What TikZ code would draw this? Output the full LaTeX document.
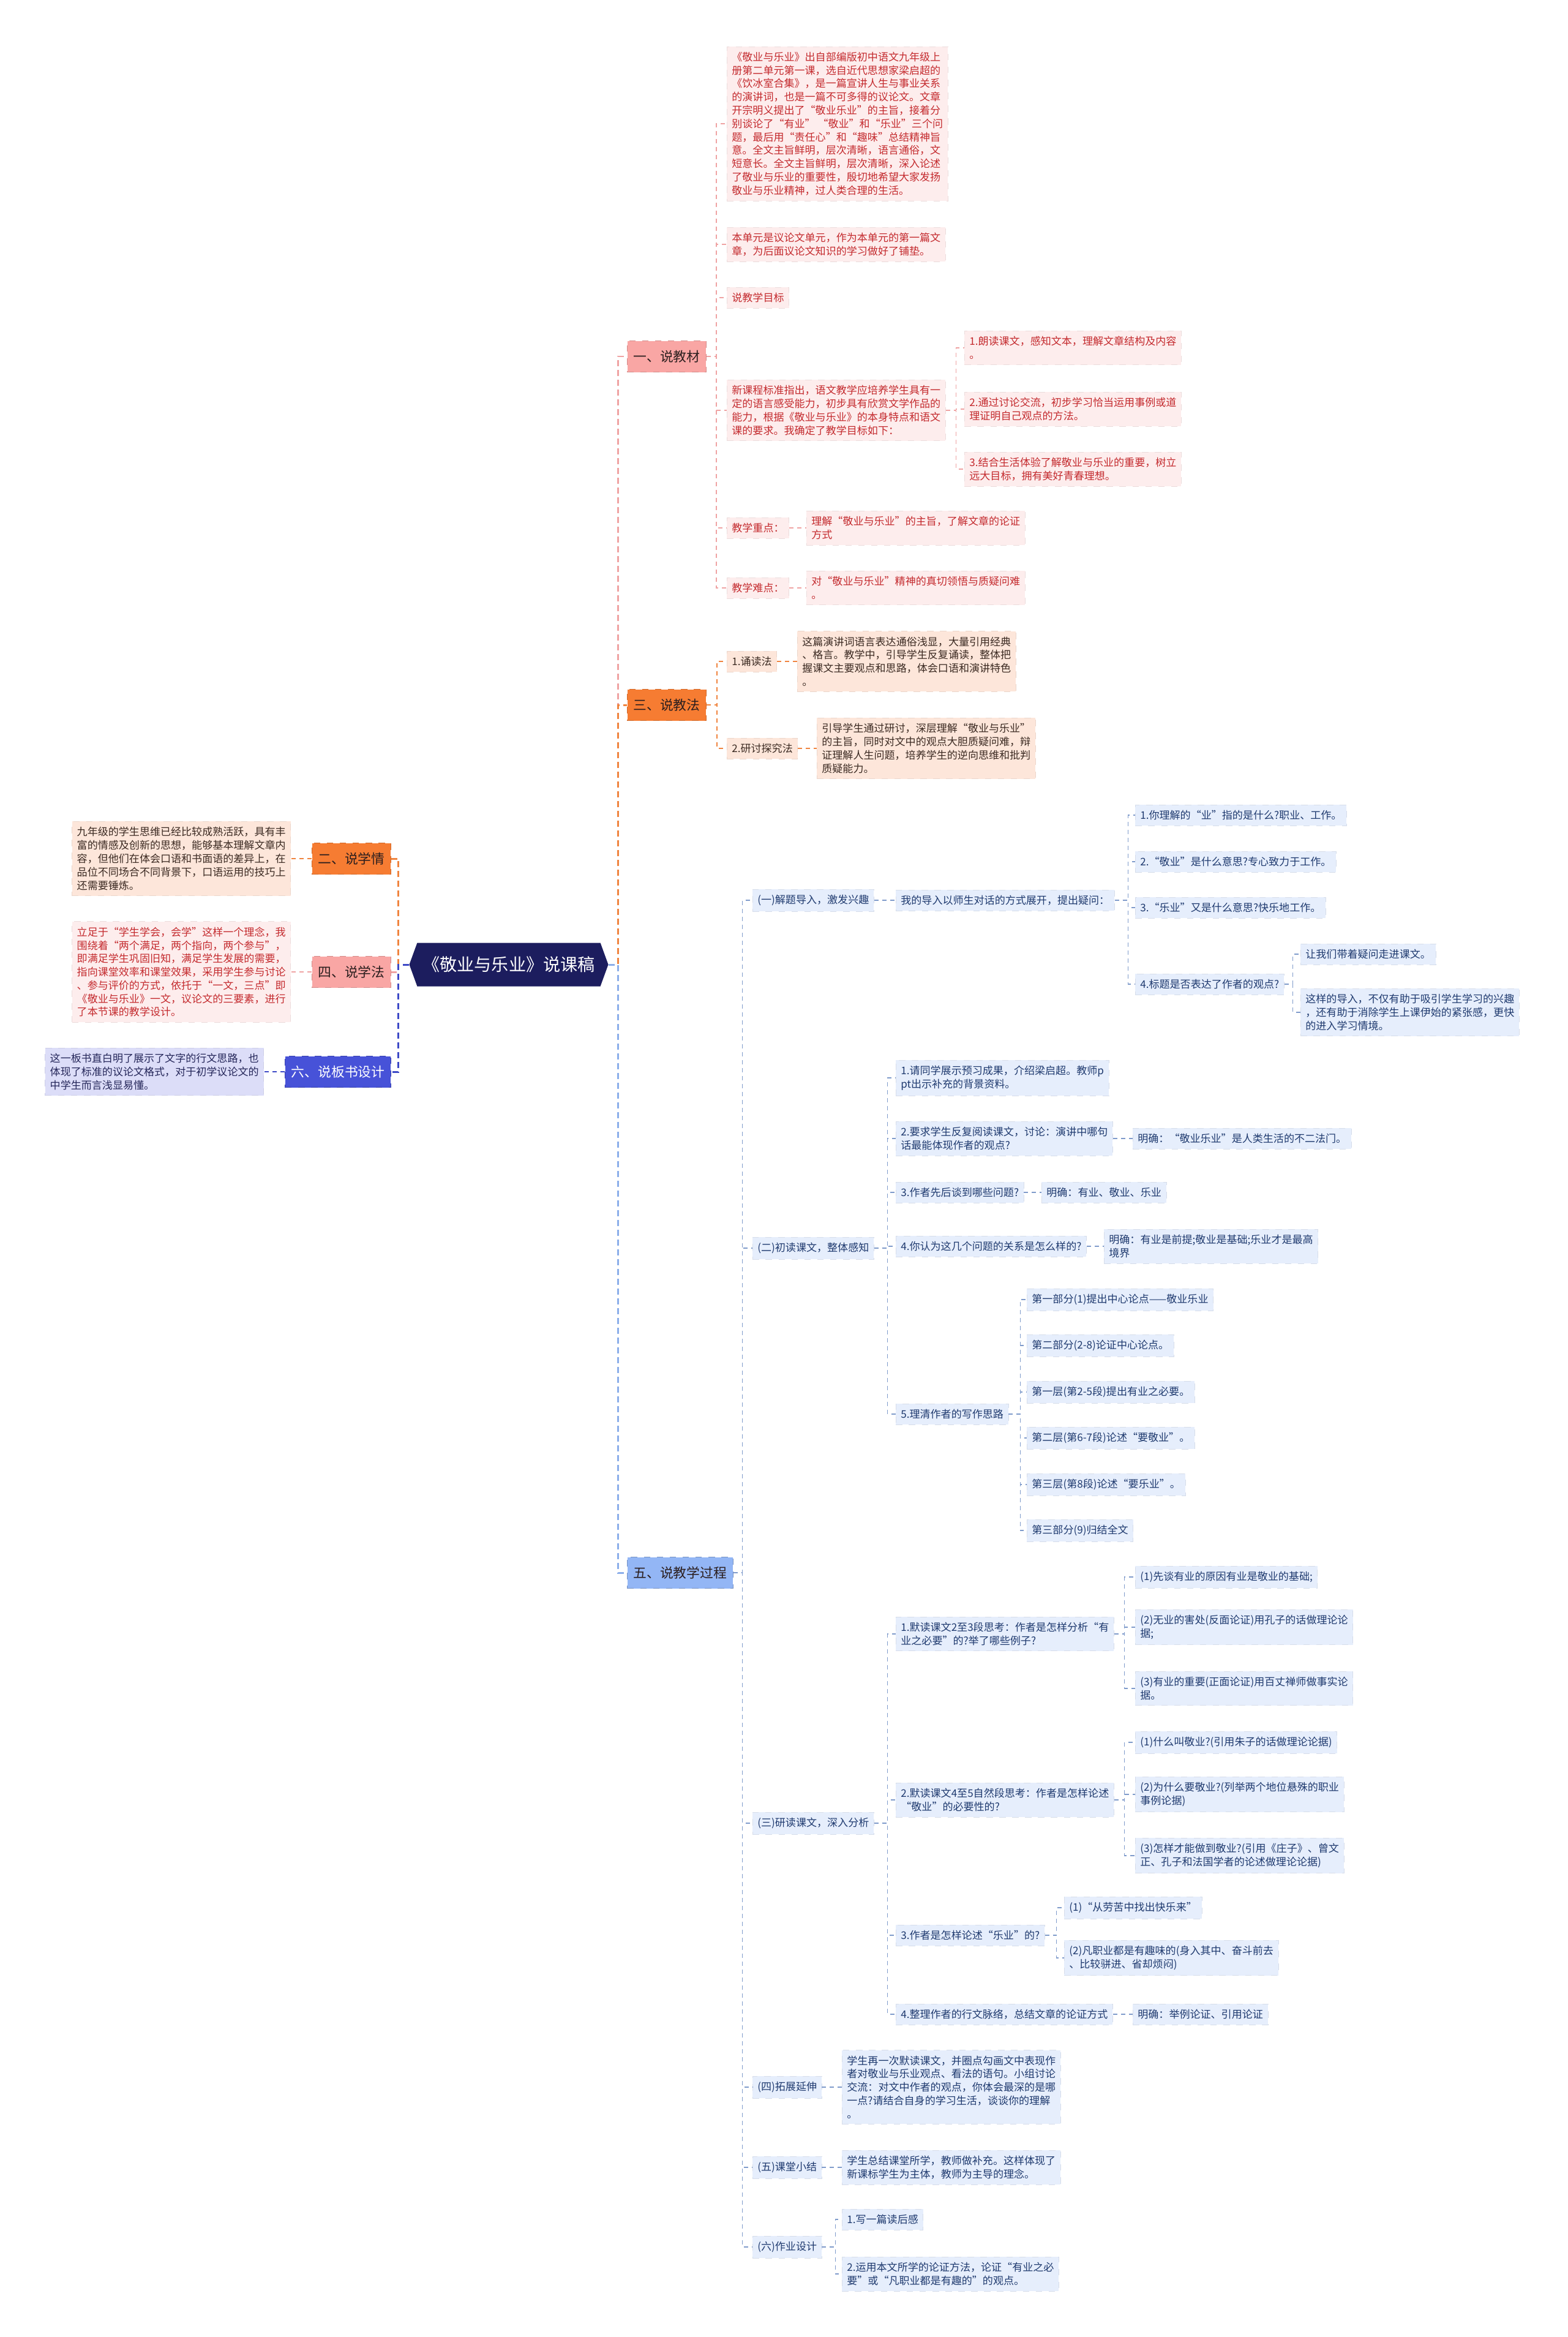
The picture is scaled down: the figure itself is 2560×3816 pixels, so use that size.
\documentclass[tikz,border=0pt]{standalone}
\usepackage{fontspec}
\setmainfont{Noto Sans CJK SC}
\usetikzlibrary{shapes.symbols}
\definecolor{navy}{HTML}{1C1D5E}
\definecolor{pinkA}{HTML}{F9A6A4}
\definecolor{orngA}{HTML}{F67C32}
\definecolor{blueA}{HTML}{93B6F5}
\definecolor{indA}{HTML}{4752D8}
\definecolor{darkT}{HTML}{2B1E1E}
\definecolor{pinkB}{HTML}{FDEDED}
\definecolor{pinkT}{HTML}{C42A2E}
\definecolor{peach}{HTML}{FDE6DA}
\definecolor{brownT}{HTML}{3B2A22}
\definecolor{lblue}{HTML}{E6EEFC}
\definecolor{blueT}{HTML}{1F3A6F}
\definecolor{lilac}{HTML}{DCDDF8}
\definecolor{lilacT}{HTML}{25275A}
\definecolor{pinkL}{HTML}{EFA3A3}
\definecolor{orngL}{HTML}{F0843F}
\definecolor{blueL}{HTML}{8BAEEA}
\definecolor{greyL}{HTML}{7F9BCB}
\definecolor{indL}{HTML}{3D49C6}
\tikzset{
  hub/.style={signal,signal to=west and east,signal pointer angle=140,fill=navy,text=white,
    inner xsep=0.9mm,inner ysep=0pt,minimum height=7.1mm,font=\fontsize{8pt}{9pt}\selectfont},
  sec/.style={rectangle,inner xsep=1mm,inner ysep=0pt,minimum height=5.1mm,
    font=\fontsize{6.2pt}{7pt}\selectfont,dashed,line width=0.3pt},
  secpink/.style={sec,fill=pinkA,draw=pinkA!85!black,text=darkT},
  secorng/.style={sec,fill=orngA,draw=orngA!85!black,text=darkT},
  secblue/.style={sec,fill=blueA,draw=blueA!80!black,text=darkT},
  secind/.style={sec,fill=indA,draw=indA!80!black,text=white},
  box/.style={rectangle,align=left,inner xsep=0.8mm,inner ysep=0.9mm,
    font=\fontsize{4.85pt}{6.2pt}\selectfont,dashed,line width=0.2pt},
  boxpink/.style={box,fill=pinkB,draw=pinkB!93!black,text=pinkT},
  boxpeach/.style={box,fill=peach,draw=peach!93!black,text=brownT},
  boxblue/.style={box,fill=lblue,draw=lblue!93!black,text=blueT},
  boxlilac/.style={box,fill=lilac,draw=lilac!93!black,text=lilacT},
  trunk/.style={dash pattern=on 1mm off 0.6mm,line width=0.85pt},
  lnk/.style={dash pattern=on 0.7mm off 0.6mm,line width=0.45pt},
}
\begin{document}
\begin{tikzpicture}[x=0.1mm,y=-0.1mm]
  \useasboundingbox (0,0) rectangle (2560,3816);
  \node[hub] (root) at (831,1575) {《敬业与乐业》说课稿};

  \node[secorng,anchor=east] (b2) at (639,1402) {二、说学情};
  \node[secpink,anchor=east] (b4) at (639,1587) {四、说学法};
  \node[secind,anchor=east] (b6) at (639,1750) {六、说板书设计};
  \node[boxpeach,anchor=east] (b2t) at (475,1402) {九年级的学生思维已经比较成熟活跃，具有丰\\富的情感及创新的思想，能够基本理解文章内\\容，但他们在体会口语和书面语的差异上，在\\品位不同场合不同背景下，口语运用的技巧上\\还需要锤炼。};
  \node[boxpink,anchor=east] (b4t) at (475,1587) {立足于“学生学会，会学”这样一个理念，我\\围绕着“两个满足，两个指向，两个参与”，\\即满足学生巩固旧知，满足学生发展的需要，\\指向课堂效率和课堂效果，采用学生参与讨论\\、参与评价的方式，依托于“一文，三点”即\\《敬业与乐业》一文，议论文的三要素，进行\\了本节课的教学设计。};
  \node[boxlilac,anchor=east] (b6t) at (431,1750) {这一板书直白明了展示了文字的行文思路，也\\体现了标准的议论文格式，对于初学议论文的\\中学生而言浅显易懂。};

  \node[secpink,anchor=west] (b1) at (1024,582) {一、说教材};
  \node[secorng,anchor=west] (b3) at (1024,1151) {三、说教法};
  \node[secblue,anchor=west] (b5) at (1024,2568) {五、说教学过程};

  \node[boxpink,anchor=west] (b1a) at (1187,202) {《敬业与乐业》出自部编版初中语文九年级上\\册第二单元第一课，选自近代思想家梁启超的\\《饮冰室合集》，是一篇宣讲人生与事业关系\\的演讲词，也是一篇不可多得的议论文。文章\\开宗明义提出了“敬业乐业”的主旨，接着分\\别谈论了“有业” “敬业”和“乐业”三个问\\题，最后用“责任心”和“趣味”总结精神旨\\意。全文主旨鲜明，层次清晰，语言通俗，文\\短意长。全文主旨鲜明，层次清晰，深入论述\\了敬业与乐业的重要性，殷切地希望大家发扬\\敬业与乐业精神，过人类合理的生活。};
  \node[boxpink,anchor=west] (b1b) at (1187,399) {本单元是议论文单元，作为本单元的第一篇文\\章，为后面议论文知识的学习做好了铺垫。};
  \node[boxpink,anchor=west] (b1c) at (1187,486) {说教学目标};
  \node[boxpink,anchor=west] (b1d) at (1187,670) {新课程标准指出，语文教学应培养学生具有一\\定的语言感受能力，初步具有欣赏文学作品的\\能力，根据《敬业与乐业》的本身特点和语文\\课的要求。我确定了教学目标如下：};
  \node[boxpink,anchor=west] (g1) at (1575,568) {1.朗读课文，感知文本，理解文章结构及内容\\。};
  \node[boxpink,anchor=west] (g2) at (1575,668) {2.通过讨论交流，初步学习恰当运用事例或道\\理证明自己观点的方法。};
  \node[boxpink,anchor=west] (g3) at (1575,766) {3.结合生活体验了解敬业与乐业的重要，树立\\远大目标，拥有美好青春理想。};
  \node[boxpink,anchor=west] (b1e) at (1187,862) {教学重点：};
  \node[boxpink,anchor=west] (b1f) at (1187,960) {教学难点：};
  \node[boxpink,anchor=west] (k1) at (1317,862) {理解“敬业与乐业”的主旨，了解文章的论证\\方式};
  \node[boxpink,anchor=west] (k2) at (1317,960) {对“敬业与乐业”精神的真切领悟与质疑问难\\。};

  \node[boxpeach,anchor=west] (m1) at (1187,1080) {1.诵读法};
  \node[boxpeach,anchor=west] (m1t) at (1302,1080) {这篇演讲词语言表达通俗浅显，大量引用经典\\、格言。教学中，引导学生反复诵读，整体把\\握课文主要观点和思路，体会口语和演讲特色\\。};
  \node[boxpeach,anchor=west] (m2) at (1187,1222) {2.研讨探究法};
  \node[boxpeach,anchor=west] (m2t) at (1334,1222) {引导学生通过研讨，深层理解“敬业与乐业”\\的主旨，同时对文中的观点大胆质疑问难，辩\\证理解人生问题，培养学生的逆向思维和批判\\质疑能力。};

  \node[boxblue,anchor=west] (f1) at (1229,1470) {(一)解题导入，激发兴趣};
  \node[boxblue,anchor=west] (f1a) at (1463,1470) {我的导入以师生对话的方式展开，提出疑问：};
  \node[boxblue,anchor=west] (q1) at (1854,1331) {1.你理解的“业”指的是什么?职业、工作。};
  \node[boxblue,anchor=west] (q2) at (1854,1407) {2.“敬业”是什么意思?专心致力于工作。};
  \node[boxblue,anchor=west] (q3) at (1854,1482) {3.“乐业”又是什么意思?快乐地工作。};
  \node[boxblue,anchor=west] (q4) at (1854,1607) {4.标题是否表达了作者的观点?};
  \node[boxblue,anchor=west] (q4a) at (2124,1558) {让我们带着疑问走进课文。};
  \node[boxblue,anchor=west] (q4b) at (2124,1653) {这样的导入，不仅有助于吸引学生学习的兴趣\\，还有助于消除学生上课伊始的紧张感，更快\\的进入学习情境。};

  \node[boxblue,anchor=west] (f2) at (1229,2038) {(二)初读课文，整体感知};
  \node[boxblue,anchor=west] (i1) at (1463,1760) {1.请同学展示预习成果，介绍梁启超。教师p\\pt出示补充的背景资料。};
  \node[boxblue,anchor=west] (i2) at (1463,1859) {2.要求学生反复阅读课文，讨论：演讲中哪句\\话最能体现作者的观点?};
  \node[boxblue,anchor=west] (i2a) at (1850,1859) {明确：“敬业乐业”是人类生活的不二法门。};
  \node[boxblue,anchor=west] (i3) at (1463,1947) {3.作者先后谈到哪些问题?};
  \node[boxblue,anchor=west] (i3a) at (1701,1947) {明确：有业、敬业、乐业};
  \node[boxblue,anchor=west] (i4) at (1463,2035) {4.你认为这几个问题的关系是怎么样的?};
  \node[boxblue,anchor=west] (i4a) at (1803,2035) {明确：有业是前提;敬业是基础;乐业才是最高\\境界};
  \node[boxblue,anchor=west] (i5) at (1463,2309) {5.理清作者的写作思路};
  \node[boxblue,anchor=west] (p1) at (1677,2122) {第一部分(1)提出中心论点——敬业乐业};
  \node[boxblue,anchor=west] (p2) at (1677,2197) {第二部分(2-8)论证中心论点。};
  \node[boxblue,anchor=west] (p3) at (1677,2273) {第一层(第2-5段)提出有业之必要。};
  \node[boxblue,anchor=west] (p4) at (1677,2348) {第二层(第6-7段)论述“要敬业”。};
  \node[boxblue,anchor=west] (p5) at (1677,2424) {第三层(第8段)论述“要乐业”。};
  \node[boxblue,anchor=west] (p6) at (1677,2499) {第三部分(9)归结全文};

  \node[boxblue,anchor=west] (f3) at (1229,2977) {(三)研读课文，深入分析};
  \node[boxblue,anchor=west] (j1) at (1463,2668) {1.默读课文2至3段思考：作者是怎样分析“有\\业之必要”的?举了哪些例子?};
  \node[boxblue,anchor=west] (j1a) at (1854,2575) {(1)先谈有业的原因有业是敬业的基础;};
  \node[boxblue,anchor=west] (j1b) at (1854,2657) {(2)无业的害处(反面论证)用孔子的话做理论论\\据;};
  \node[boxblue,anchor=west] (j1c) at (1854,2757) {(3)有业的重要(正面论证)用百丈禅师做事实论\\据。};
  \node[boxblue,anchor=west] (j2) at (1463,2939) {2.默读课文4至5自然段思考：作者是怎样论述\\“敬业”的必要性的?};
  \node[boxblue,anchor=west] (j2a) at (1854,2845) {(1)什么叫敬业?(引用朱子的话做理论论据)};
  \node[boxblue,anchor=west] (j2b) at (1854,2930) {(2)为什么要敬业?(列举两个地位悬殊的职业\\事例论据)};
  \node[boxblue,anchor=west] (j2c) at (1854,3030) {(3)怎样才能做到敬业?(引用《庄子》、曾文\\正、孔子和法国学者的论述做理论论据)};
  \node[boxblue,anchor=west] (j3) at (1463,3160) {3.作者是怎样论述“乐业”的?};
  \node[boxblue,anchor=west] (j3a) at (1738,3115) {(1)“从劳苦中找出快乐来”};
  \node[boxblue,anchor=west] (j3b) at (1738,3197) {(2)凡职业都是有趣味的(身入其中、奋斗前去\\、比较骈进、省却烦闷)};
  \node[boxblue,anchor=west] (j4) at (1463,3289) {4.整理作者的行文脉络，总结文章的论证方式};
  \node[boxblue,anchor=west] (j4a) at (1850,3289) {明确：举例论证、引用论证};

  \node[boxblue,anchor=west] (f4) at (1229,3408) {(四)拓展延伸};
  \node[boxblue,anchor=west] (f4a) at (1375,3408) {学生再一次默读课文，并圈点勾画文中表现作\\者对敬业与乐业观点、看法的语句。小组讨论\\交流：对文中作者的观点，你体会最深的是哪\\一点?请结合自身的学习生活，谈谈你的理解\\。};
  \node[boxblue,anchor=west] (f5) at (1229,3539) {(五)课堂小结};
  \node[boxblue,anchor=west] (f5a) at (1375,3539) {学生总结课堂所学，教师做补充。这样体现了\\新课标学生为主体，教师为主导的理念。};
  \node[boxblue,anchor=west] (f6) at (1229,3669) {(六)作业设计};
  \node[boxblue,anchor=west] (f6a) at (1375,3624) {1.写一篇读后感};
  \node[boxblue,anchor=west] (f6b) at (1375,3713) {2.运用本文所学的论证方法，论证“有业之必\\要”或“凡职业都是有趣的”的观点。};

  \draw[trunk,orngL] (root.west) -- ++(-17,0) |- (b2.east);
  \draw[trunk,pinkL] (root.west) -- ++(-17,0) |- (b4.east);
  \draw[trunk,indL] (root.west) -- ++(-17,0) |- (b6.east);
  \draw[lnk,orngL] (b2.west) -- (b2t.east);
  \draw[lnk,pinkL] (b4.west) -- (b4t.east);
  \draw[lnk,indL] (b6.west) -- (b6t.east);

  \draw[trunk,pinkL] (root.east) -- ++(15,0) |- (b1.west);
  \draw[trunk,orngL] (root.east) -- ++(15,0) |- (b3.west);
  \draw[trunk,blueL] (root.east) -- ++(15,0) |- (b5.west);

  \foreach \c in {b1a,b1b,b1c,b1d,b1e,b1f}
    \draw[lnk,pinkL] (b1.east) -- ++(16,0) |- (\c.west);
  \foreach \c in {g1,g2,g3}
    \draw[lnk,pinkL] (b1d.east) -- ++(17,0) |- (\c.west);
  \draw[lnk,pinkL] (b1e.east) -- (k1.west);
  \draw[lnk,pinkL] (b1f.east) -- (k2.west);

  \foreach \c in {m1,m2}
    \draw[lnk,orngL] (b3.east) -- ++(17,0) |- (\c.west);
  \draw[lnk,orngL] (m1.east) -- (m1t.west);
  \draw[lnk,orngL] (m2.east) -- (m2t.west);

  \foreach \c in {f1,f2,f3,f4,f5,f6}
    \draw[lnk,greyL] (b5.east) -- ++(15,0) |- (\c.west);
  \draw[lnk,greyL] (f1.east) -- (f1a.west);
  \foreach \c in {q1,q2,q3,q4}
    \draw[lnk,greyL] (f1a.east) -- ++(22,0) |- (\c.west);
  \foreach \c in {q4a,q4b}
    \draw[lnk,greyL] (q4.east) -- ++(14,0) |- (\c.west);
  \foreach \c in {i1,i2,i3,i4,i5}
    \draw[lnk,greyL] (f2.east) -- ++(22,0) |- (\c.west);
  \draw[lnk,greyL] (i2.east) -- (i2a.west);
  \draw[lnk,greyL] (i3.east) -- (i3a.west);
  \draw[lnk,greyL] (i4.east) -- (i4a.west);
  \foreach \c in {p1,p2,p3,p4,p5,p6}
    \draw[lnk,greyL] (i5.east) -- ++(19,0) |- (\c.west);
  \foreach \c in {j1,j2,j3,j4}
    \draw[lnk,greyL] (f3.east) -- ++(22,0) |- (\c.west);
  \foreach \c in {j1a,j1b,j1c}
    \draw[lnk,greyL] (j1.east) -- ++(17,0) |- (\c.west);
  \foreach \c in {j2a,j2b,j2c}
    \draw[lnk,greyL] (j2.east) -- ++(17,0) |- (\c.west);
  \foreach \c in {j3a,j3b}
    \draw[lnk,greyL] (j3.east) -- ++(19,0) |- (\c.west);
  \draw[lnk,greyL] (j4.east) -- (j4a.west);
  \draw[lnk,greyL] (f4.east) -- (f4a.west);
  \draw[lnk,greyL] (f5.east) -- (f5a.west);
  \foreach \c in {f6a,f6b}
    \draw[lnk,greyL] (f6.east) -- ++(22,0) |- (\c.west);
\end{tikzpicture}
\end{document}
